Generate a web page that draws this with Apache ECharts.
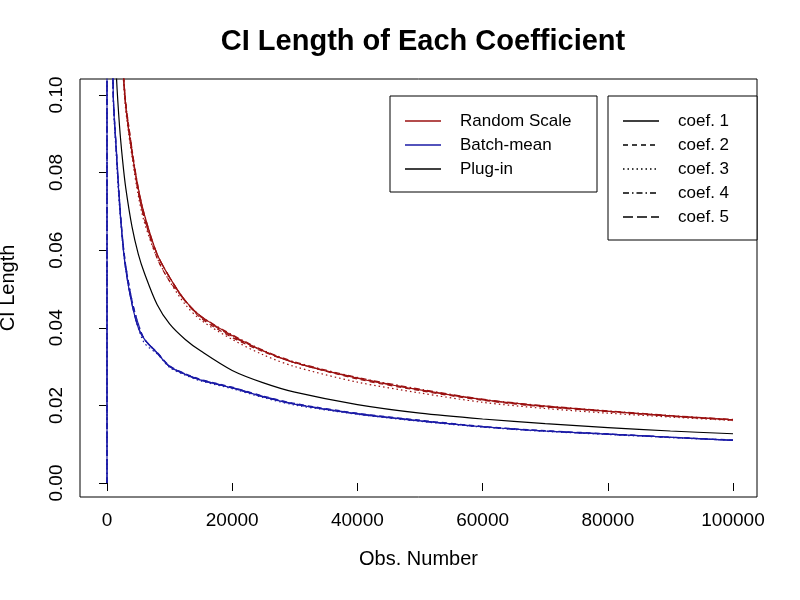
<!DOCTYPE html>
<html><head><meta charset="utf-8">
<script src="https://cdn.jsdelivr.net/npm/echarts@6/dist/echarts.min.js"></script>
<style>html,body{margin:0;background:#fff}#c{width:800px;height:600px}</style>
</head><body><div id="c"></div>
<script>
const obs = [1000,1500,2000,2500,3000,4000,5000,6000,8000,10000,12500,15000,20000,25000,30000,40000,50000,60000,70000,80000,90000,100000];
const randomScale = [
 [0.190,0.150,0.125,0.108,0.097,0.085,0.076,0.069,0.059,0.053,0.047,0.043,0.038,0.034,0.031,0.027,0.024,0.0215,0.0198,0.0185,0.0173,0.0163],
 [0.188,0.151,0.126,0.109,0.098,0.086,0.075,0.068,0.058,0.052,0.047,0.0425,0.0375,0.0338,0.031,0.0268,0.0238,0.0213,0.0196,0.0184,0.0172,0.0162],
 [0.185,0.148,0.124,0.107,0.096,0.084,0.074,0.067,0.058,0.052,0.046,0.042,0.037,0.033,0.030,0.026,0.0232,0.0208,0.0192,0.018,0.017,0.0161],
 [0.192,0.152,0.127,0.110,0.098,0.086,0.076,0.069,0.059,0.053,0.047,0.043,0.0382,0.0342,0.0312,0.0272,0.0242,0.0216,0.0199,0.0186,0.0174,0.0164],
 [0.190,0.150,0.126,0.109,0.097,0.085,0.075,0.068,0.059,0.053,0.0468,0.0428,0.0378,0.034,0.031,0.0271,0.024,0.0215,0.0197,0.0185,0.0173,0.0163]
];
const batchMean = [
 [0.100,0.085,0.072,0.062,0.055,0.046,0.040,0.037,0.0335,0.0300,0.0280,0.0265,0.0245,0.0222,0.0203,0.0178,0.016,0.0145,0.0134,0.0126,0.0118,0.0110],
 [0.101,0.086,0.073,0.063,0.056,0.047,0.041,0.037,0.0337,0.0302,0.0282,0.0267,0.0247,0.0224,0.0205,0.0180,0.0162,0.0146,0.0135,0.0127,0.0118,0.0111],
 [0.099,0.084,0.071,0.062,0.055,0.046,0.040,0.036,0.0333,0.0298,0.0278,0.0263,0.0243,0.0220,0.0201,0.0177,0.0159,0.0144,0.0133,0.0125,0.0117,0.0110],
 [0.100,0.085,0.072,0.063,0.056,0.047,0.041,0.037,0.0335,0.0300,0.0280,0.0265,0.0245,0.0222,0.0203,0.0178,0.0161,0.0145,0.0134,0.0126,0.0118,0.0110],
 [0.100,0.086,0.073,0.062,0.055,0.046,0.040,0.037,0.0336,0.0301,0.0281,0.0266,0.0246,0.0223,0.0204,0.0179,0.016,0.0145,0.0134,0.0126,0.0118,0.0110]
];
const plugIn = [0.126,0.105,0.092,0.083,0.076,0.066,0.059,0.054,0.046,0.041,0.037,0.034,0.0290,0.0258,0.0234,0.0202,0.0180,0.0165,0.0153,0.0143,0.0134,0.0127];
const xTicks = [0,20000,40000,60000,80000,100000];
const yTicks = [0,0.02,0.04,0.06,0.08,0.10];
const coefNames = ['coef. 1','coef. 2','coef. 3','coef. 4','coef. 5'];
const methodNames = ['Random Scale','Batch-mean','Plug-in'];
const dashes = ['solid',[5,4],[1.5,3],[6,3,1.5,3],[10,4]];
const RED = '#9b1111', BLUE = '#1a1aa6';

const series = [];
function add(vals, color, dash, lead){
  const d = obs.map((x,i)=>[x,vals[i]]);
  if (lead) d.unshift(...lead);
  series.push({type:'line',data:d,showSymbol:false,smooth:0.3,clip:true,animation:false,
    lineStyle:{color:color,width:1.2,type:dash}});
}
randomScale.forEach((v,i)=>add(v,RED,dashes[i]));
batchMean.forEach((v,i)=>add(v,BLUE,dashes[i],[[0,0],[1,0.2]]));
add(plugIn,'#000','solid');

const ch = echarts.init(document.getElementById('c'));
const F = 'Liberation Sans, Arial, sans-serif';
function legendLine(x1,y,color,dash){return {type:'line',shape:{x1:x1,y1:y,x2:x1+36,y2:y},style:{stroke:color,lineWidth:1.3,lineDash:dash==='solid'?null:dash}};}
const g = [
 {type:'rect',shape:{x:390,y:96,width:207,height:96},style:{fill:'#fff',stroke:'#000',lineWidth:1}},
 {type:'rect',shape:{x:608,y:96,width:149,height:144},style:{fill:'#fff',stroke:'#000',lineWidth:1}}
];
[RED,BLUE,'#000'].forEach((c,i)=>{
  g.push(legendLine(405,121+24*i,c,'solid'));
  g.push({type:'text',x:460,y:121+24*i,style:{text:methodNames[i],font:'17px '+F,fill:'#000',verticalAlign:'middle'}});
});
coefNames.forEach((n,i)=>{
  g.push(legendLine(623,121+24*i,'#000',dashes[i]));
  g.push({type:'text',x:678,y:121+24*i,style:{text:n,font:'17px '+F,fill:'#000',verticalAlign:'middle'}});
});
ch.setOption({
  backgroundColor:'#fff',animation:false,
  title:{text:'CI Length of Each Coefficient',left:418,textAlign:'center',top:22,textStyle:{fontFamily:F,fontSize:29,fontWeight:'bold',color:'#000'}},
  grid:{left:80,top:79,right:43,bottom:103,containLabel:false,outerBoundsMode:'none',show:true,borderColor:'#000',borderWidth:1,backgroundColor:'transparent'},
  xAxis:{type:'value',min:-4313,max:103834,name:'Obs. Number',nameLocation:'middle',nameGap:52,offset:0,
    nameTextStyle:{fontFamily:F,fontSize:20,color:'#000'},
    axisLine:{show:false},splitLine:{show:false},
    axisTick:{show:true,inside:false,length:8,customValues:xTicks,lineStyle:{color:'#000'}},
    axisLabel:{customValues:xTicks,fontFamily:F,fontSize:19,color:'#000',margin:14,formatter:v=>String(v)}},
  yAxis:{type:'value',min:-0.0036,max:0.1041,name:'CI Length',nameLocation:'middle',nameGap:62,
    nameTextStyle:{fontFamily:F,fontSize:20,color:'#000'},
    axisLine:{show:false},splitLine:{show:false},
    axisTick:{show:true,inside:false,length:8,customValues:yTicks,lineStyle:{color:'#000'}},
    axisLabel:{customValues:yTicks,rotate:90,fontFamily:F,fontSize:19,color:'#000',margin:14,formatter:v=>v.toFixed(2)}},
  series:series,
  graphic:g
});
</script></body></html>
